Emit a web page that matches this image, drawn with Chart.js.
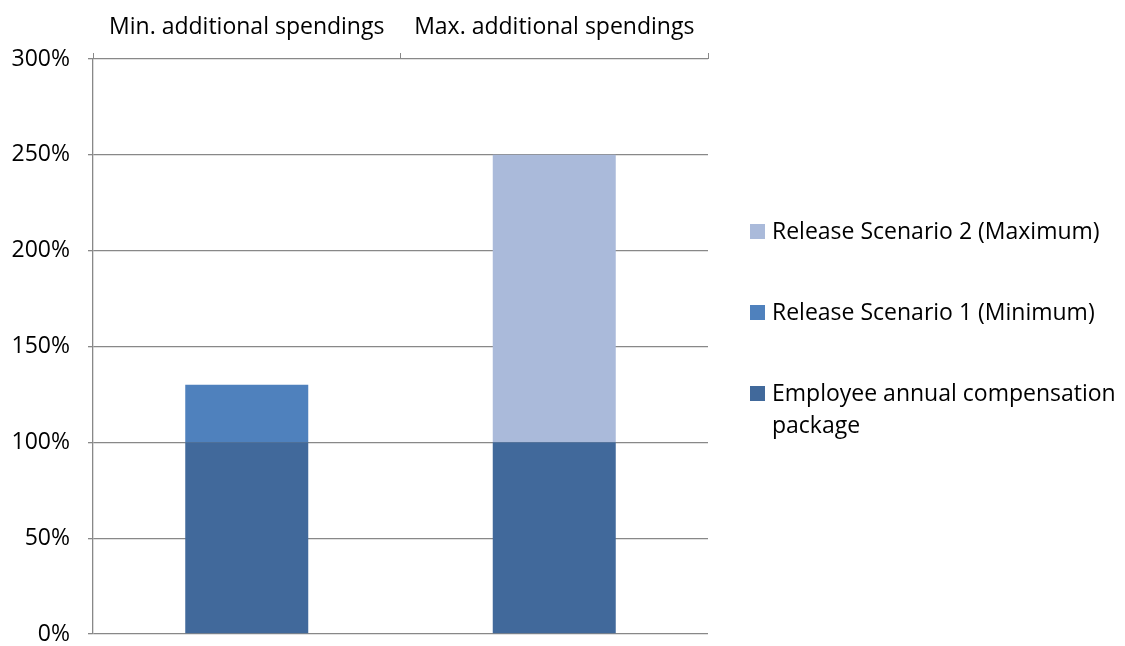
<!DOCTYPE html>
<html><head><meta charset="utf-8">
<script src="https://cdn.jsdelivr.net/npm/chart.js@4.4.1/dist/chart.umd.min.js"></script>
<style>html,body{margin:0;padding:0;background:#fff}#wrap{width:1125px;height:646px}</style>
</head><body><div id="wrap"><canvas id="c" width="1125" height="646"></canvas></div>
<script>
const categories = ["Min. additional spendings", "Max. additional spendings"];
const employeeComp = [100, 100];
const scenario1 = [30, 0];
const scenario2 = [0, 150];
const yTicks = [0, 50, 100, 150, 200, 250, 300];
const legendLabels = ["Release Scenario 2 (Maximum)", "Release Scenario 1 (Minimum)", ["Employee annual compensation", "package"]];

const FONT = "'Open Sans', sans-serif";
const FS = 23;
const colors = {emp: '#41699B', s1: '#4F81BD', s2: '#AABADA'};

const legendPlugin = {
  id: 'customLegend',
  afterDraw(chart) {
    const ctx = chart.ctx;
    ctx.save();
    ctx.font = FS + 'px ' + FONT;
    ctx.fillStyle = '#000';
    ctx.textBaseline = 'middle';
    const items = [
      {color: colors.s2, text: legendLabels[0], y: 231},
      {color: colors.s1, text: legendLabels[1], y: 312},
      {color: colors.emp, text: legendLabels[2], y: 393}
    ];
    items.forEach(it => {
      ctx.fillStyle = it.color;
      ctx.fillRect(750, it.y - 7, 15, 15);
      ctx.fillStyle = '#000';
      const lines = Array.isArray(it.text) ? it.text : [it.text];
      lines.forEach((l, i) => ctx.fillText(l, 772, it.y + 1 + i * 32));
    });
    ctx.restore();
  }
};

new Chart(document.getElementById('c'), {
  type: 'bar',
  data: {
    labels: categories,
    datasets: [
      {label: 'Employee annual compensation package', data: employeeComp, backgroundColor: colors.emp},
      {label: 'Release Scenario 1 (Minimum)', data: scenario1, backgroundColor: colors.s1},
      {label: 'Release Scenario 2 (Maximum)', data: scenario2, backgroundColor: colors.s2}
    ]
  },
  options: {
    responsive: false,
    animation: false,
    layout: {padding: {left: 0, right: 417, top: 0, bottom: 12}},
    plugins: {legend: {display: false}, tooltip: {enabled: false}},
    datasets: {bar: {categoryPercentage: 1, barPercentage: 0.4}},
    scales: {
      x: {
        stacked: true,
        position: 'top',
        grid: {drawOnChartArea: false, drawTicks: true, tickLength: 6, color: '#888', offset: true},
        border: {display: false},
        ticks: {font: {family: FONT, size: FS}, color: '#000', padding: 12, maxRotation: 0},
        afterFit(s) { s.height = 59; s.paddingLeft = 0; s.paddingRight = 0; }
      },
      y: {
        stacked: true,
        min: 0, max: 300,
        afterBuildTicks(s) { s.ticks = yTicks.map(v => ({value: v})); },
        grid: {color: '#888', lineWidth: 1.3, tickLength: 5},
        border: {display: true, color: '#888', width: 1.3},
        ticks: {font: {family: FONT, size: FS}, color: '#000', padding: 18, callback: v => v + '%'},
        afterFit(s) { s.width = 93; s.paddingTop = 0; s.paddingBottom = 0; }
      }
    }
  },
  plugins: [legendPlugin]
});
</script></body></html>
